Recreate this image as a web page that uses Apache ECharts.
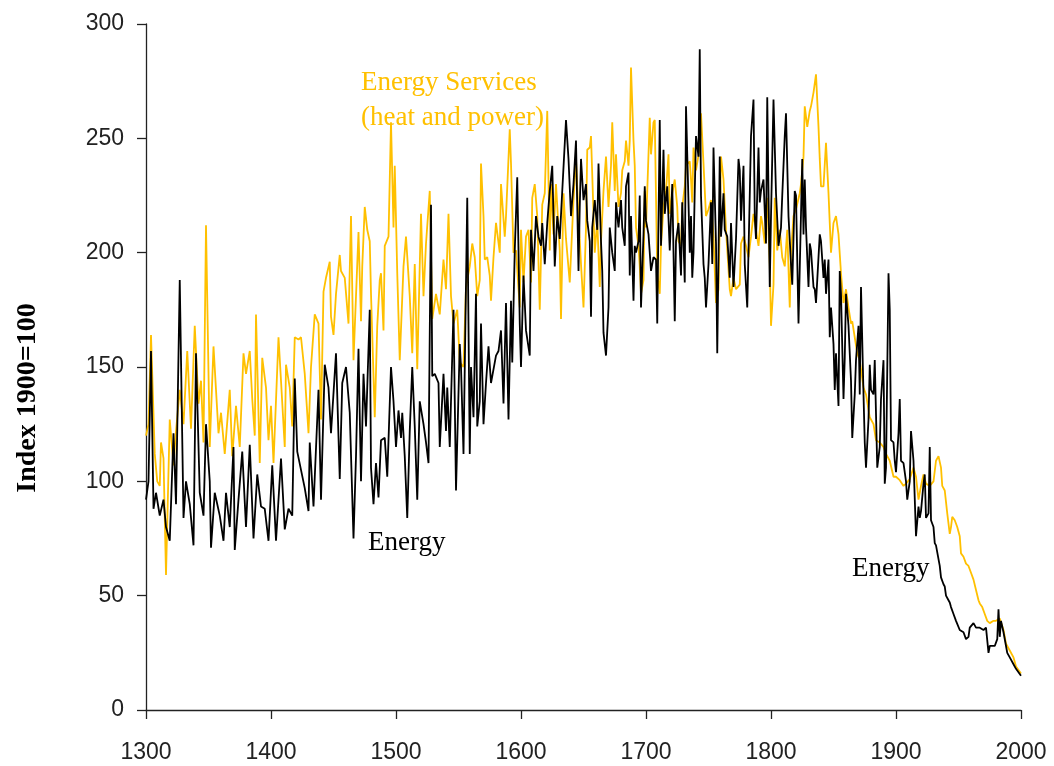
<!DOCTYPE html>
<html>
<head>
<meta charset="utf-8">
<script src="https://cdn.jsdelivr.net/npm/echarts@6/dist/echarts.min.js"></script>
<style>
html,body{margin:0;padding:0;background:#fff;}
#chart{width:1054px;height:766px;}
</style>
</head>
<body>
<div id="chart"></div>
<script>
// Index 1900=100 — Energy (black) [year, index]
const energy = [
[1300,92],[1302,100],[1304,157],[1306,88],[1308,95],[1311,85],[1314,92],[1316,80],[1319,74],[1322,121],
[1324,90],[1327,188],[1330,84],[1332,100],[1335,90],[1338,72],[1340,156],[1343,95],[1346,85],[1348,125],
[1351,100],[1352,71],[1355,95],[1359,85],[1362,74],[1364,95],[1367,80],[1370,115],[1371,70],[1374,92],
[1377,113],[1380,80],[1383,116],[1386,75],[1389,103],[1392,89],[1395,88],[1398,74],[1401,107],[1404,74],
[1408,110],[1411,79],[1414,88],[1417,85],[1419,145],[1421,113],[1424,105],[1427,97],[1430,87],[1431,117],
[1434,89],[1438,140],[1440,92],[1443,151],[1446,141],[1448,121],[1452,156],[1455,101],[1457,143],[1460,150],
[1463,130],[1466,75],[1468,111],[1470,158],[1472,100],[1474,147],[1476,124],[1479,175],[1480,106],[1482,90],
[1484,108],[1486,93],[1488,118],[1491,119],[1493,102],[1496,150],[1498,135],[1500,115],[1502,131],[1504,119],
[1505,130],[1507,111],[1509,84],[1511,122],[1513,150],[1515,124],[1517,92],[1519,135],[1522,125],[1524,117],
[1526,108],[1528,221],[1529,146],[1531,147],[1534,143],[1535,115],[1538,147],[1540,122],[1541,141],[1543,115],
[1546,175],[1548,96],[1551,160],[1552,150],[1554,112],[1557,224],[1559,112],[1560,150],[1562,128],[1564,182],
[1565,124],[1567,135],[1568,169],[1570,125],[1572,143],[1574,159],[1576,143],[1578,149],[1580,155],[1582,157],
[1584,166],[1586,134],[1588,178],[1590,127],[1592,179],[1593,152],[1595,201],[1597,233],[1599,169],[1600,150],
[1602,190],[1604,166],[1607,155],[1608,210],[1610,192],[1612,216],[1614,207],[1616,203],[1617,213],[1619,195],
[1621,213],[1623,227],[1625,238],[1627,194],[1629,216],[1631,206],[1633,227],[1636,258],[1638,241],[1640,216],
[1642,230],[1644,249],[1646,192],[1647,220],[1648,241],[1650,223],[1652,230],[1653,214],[1655,205],[1656,172],
[1657,211],[1659,223],[1661,210],[1662,239],[1664,205],[1665,192],[1666,165],[1668,155],[1670,176],[1671,211],
[1673,200],[1675,192],[1676,222],[1678,211],[1680,223],[1681,211],[1683,203],[1684,229],[1686,235],[1687,190],
[1688,216],[1690,179],[1691,203],[1692,200],[1694,205],[1695,225],[1696,176],[1698,208],[1699,229],[1700,214],
[1702,208],[1704,192],[1706,198],[1708,197],[1709,169],[1711,258],[1712,203],[1714,245],[1715,217],[1717,229],
[1719,201],[1721,230],[1723,170],[1724,205],[1726,213],[1728,190],[1729,222],[1731,187],[1732,264],[1734,222],
[1735,200],[1736,216],[1737,189],[1738,200],[1739,227],[1740,251],[1742,242],[1743,289],[1744,225],[1746,195],
[1747,189],[1748,176],[1750,195],[1752,222],[1753,195],[1754,246],[1756,204],[1757,156],[1759,242],[1760,207],
[1762,226],[1763,210],[1765,207],[1767,189],[1768,213],[1770,185],[1772,206],[1774,241],[1775,236],[1776,214],
[1778,238],[1779,195],[1781,176],[1783,225],[1784,251],[1786,267],[1787,216],[1788,206],[1790,246],[1791,222],
[1792,227],[1794,232],[1796,204],[1797,268],[1799,185],[1800,216],[1802,267],[1804,226],[1806,203],[1808,211],
[1809,225],[1811,251],[1812,261],[1814,216],[1816,195],[1817,186],[1819,227],[1820,225],[1822,169],[1823,169],
[1825,241],[1826,208],[1827,232],[1828,211],[1830,185],[1831,204],[1832,201],[1834,185],[1835,184],[1836,178],
[1839,208],[1840,205],[1842,189],[1843,197],[1844,182],[1846,197],[1847,163],[1848,176],[1850,160],[1851,140],
[1852,156],[1854,133],[1855,192],[1856,182],[1858,136],[1859,154],[1860,182],[1862,168],[1864,144],[1865,119],
[1867,138],[1868,153],[1870,168],[1871,138],[1872,185],[1874,138],[1875,117],[1876,106],[1878,127],[1879,151],
[1880,140],[1882,138],[1883,153],[1885,106],[1887,115],[1888,136],[1890,153],[1891,99],[1892,106],[1894,191],
[1895,175],[1896,118],[1898,117],[1899,109],[1900,104],[1902,121],[1903,136],[1904,109],[1906,108],[1908,100],
[1909,92],[1911,100],[1912,122],[1914,109],[1916,76],[1918,89],[1919,84],[1920,87],[1922,99],[1923,103],
[1924,84],[1926,86],[1927,115],[1928,83],[1930,80],[1931,73],[1932,72],[1934,66],[1935,63],[1936,58],
[1938,55],[1939,54],[1940,50],[1942,48],[1943,47],[1944,45],[1946,42],[1948,39],[1951,35],[1954,34],
[1956,31],[1958,32],[1959,36],[1962,38],[1964,36],[1967,36],[1970,35],[1972,36],[1973,36],[1974,25],
[1975,28],[1977,28],[1979,28],[1981,31],[1982,44],[1983,32],[1984,39],[1986,34],[1988,28],[1989,25],
[1991,23],[1994,20],[1996,18],[2000,15]
];

// Energy Services (heat and power) — orange [year, index]
const energyServices = [
[1300,120],[1302,125],[1304,164],[1307,112],[1309,100],[1311,98],[1312,117],[1314,110],[1316,59],[1319,127],
[1322,107],[1324,122],[1327,140],[1330,125],[1333,157],[1336,123],[1339,168],[1342,134],[1344,144],[1346,117],
[1348,212],[1351,115],[1354,159],[1358,121],[1360,130],[1363,112],[1367,140],[1369,111],[1372,133],[1375,115],
[1378,156],[1380,147],[1383,157],[1385,136],[1387,120],[1388,173],[1391,108],[1393,154],[1396,141],[1398,118],
[1400,133],[1402,108],[1406,163],[1408,144],[1411,115],[1412,151],[1415,141],[1417,124],[1419,163],[1422,162],
[1424,163],[1427,147],[1430,121],[1432,150],[1435,173],[1438,169],[1440,127],[1442,183],[1444,189],[1447,196],
[1448,172],[1450,164],[1452,182],[1455,199],[1456,192],[1459,189],[1462,169],[1464,216],[1466,153],[1470,209],
[1472,170],[1473,194],[1475,220],[1477,210],[1479,205],[1480,182],[1483,128],[1485,168],[1487,188],[1488,191],
[1490,166],[1491,203],[1494,207],[1496,257],[1498,211],[1499,238],[1501,191],[1503,153],[1506,194],[1508,207],
[1511,181],[1513,156],[1515,195],[1517,149],[1520,217],[1522,181],[1524,204],[1527,227],[1529,171],[1532,182],
[1535,173],[1538,197],[1540,184],[1542,217],[1544,181],[1546,169],[1549,175],[1551,152],[1554,150],[1556,185],
[1559,194],[1561,204],[1563,198],[1565,181],[1567,188],[1568,239],[1570,216],[1571,197],[1573,198],[1575,190],
[1576,179],[1578,198],[1580,213],[1583,200],[1584,230],[1587,207],[1588,216],[1591,254],[1592,239],[1594,200],
[1596,201],[1599,176],[1600,210],[1602,187],[1604,207],[1606,210],[1608,187],[1609,224],[1611,230],[1613,216],
[1615,175],[1617,221],[1619,226],[1621,262],[1623,201],[1624,230],[1626,208],[1628,230],[1631,201],[1632,171],
[1634,226],[1636,206],[1639,187],[1642,223],[1644,241],[1646,216],[1648,195],[1650,176],[1652,211],[1653,245],
[1655,246],[1656,251],[1658,217],[1659,200],[1661,214],[1663,185],[1664,205],[1666,227],[1668,242],[1670,220],
[1672,238],[1673,257],[1675,227],[1676,243],[1678,220],[1680,226],[1681,236],[1683,240],[1684,249],[1686,238],
[1687,249],[1688,281],[1690,249],[1691,238],[1692,211],[1694,203],[1695,194],[1696,182],[1698,188],[1699,227],
[1700,211],[1702,243],[1703,259],[1704,243],[1706,257],[1707,258],[1709,191],[1711,182],[1712,203],[1714,220],
[1716,227],[1718,243],[1719,217],[1721,226],[1723,232],[1725,220],[1726,205],[1728,203],[1729,220],[1731,229],
[1732,238],[1735,240],[1736,232],[1737,222],[1738,246],[1740,236],[1743,246],[1744,261],[1746,239],[1748,216],
[1750,219],[1752,223],[1754,207],[1756,178],[1758,184],[1760,242],[1762,232],[1764,210],[1767,184],[1768,181],
[1770,189],[1772,184],[1775,186],[1776,204],[1778,207],[1780,203],[1782,198],[1784,207],[1786,217],[1788,210],
[1790,203],[1792,216],[1793,213],[1795,204],[1797,224],[1799,195],[1800,168],[1802,186],[1803,224],[1805,201],
[1807,210],[1809,198],[1811,194],[1813,210],[1815,176],[1816,200],[1818,216],[1820,219],[1823,226],[1824,230],
[1826,242],[1827,264],[1829,255],[1831,262],[1832,264],[1834,270],[1836,278],[1838,255],[1839,241],[1840,229],
[1842,229],[1844,248],[1846,226],[1848,200],[1850,213],[1852,216],[1854,208],[1856,191],[1858,178],[1860,184],
[1862,176],[1864,169],[1865,170],[1867,163],[1869,156],[1871,153],[1874,141],[1876,138],[1879,128],[1882,125],
[1884,118],[1887,117],[1890,115],[1892,112],[1895,109],[1898,102],[1900,102],[1903,100.5],[1906,98],[1908,99],
[1911,101],[1914,106],[1916,102],[1918,92],[1919,95],[1920,98],[1922,103],[1924,99],[1927,98],[1930,100],
[1932,109],[1934,111],[1936,106],[1937,98],[1939,96],[1941,86],[1943,77],[1944,80],[1945,84.5],[1947,83],
[1949,80],[1951,76],[1952,68.5],[1954,67],[1956,64],[1958,63],[1960,60],[1962,57],[1964,52.5],[1966,48],
[1967,46.6],[1969,45],[1971,42],[1973,39],[1975,38],[1978,39],[1980,39],[1983,40],[1986,35],[1988,29],
[1991,26],[1994,23],[1996,19],[2000,16]
];

const yearTicks = [1300, 1400, 1500, 1600, 1700, 1800, 1900, 2000];
const indexTicks = [0, 50, 100, 150, 200, 250, 300];
const yAxisTitle = 'Index 1900=100';
const labelServices = ['Energy Services', '(heat and power)'];
const labelEnergy = 'Energy';

const chart = echarts.init(document.getElementById('chart'), null, {renderer: 'canvas'});
const axisFont = 'Liberation Sans';
const serif = '"Liberation Serif", "Times New Roman", serif';

chart.setOption({
  backgroundColor: '#ffffff',
  animation: false,
  grid: {left: 146, right: 33, top: 24, bottom: 56, containLabel: false},
  xAxis: {
    type: 'value',
    min: yearTicks[0], max: yearTicks[yearTicks.length - 1], interval: 100,
    splitLine: {show: false},
    axisLine: {show: true, onZero: false, lineStyle: {color: '#222', width: 1.3}},
    axisTick: {show: true, inside: false, length: 9, lineStyle: {color: '#222', width: 1.3}},
    axisLabel: {margin: 31, fontFamily: axisFont, fontSize: 23, color: '#222',
      formatter: v => String(v)}
  },
  yAxis: {
    type: 'value',
    min: indexTicks[0], max: indexTicks[indexTicks.length - 1], interval: 50,
    splitLine: {show: false},
    axisLine: {show: true, lineStyle: {color: '#222', width: 1.3}},
    axisTick: {show: true, inside: false, length: 9, lineStyle: {color: '#222', width: 1.3}},
    axisLabel: {margin: 22, fontFamily: axisFont, fontSize: 23, color: '#222'}
  },
  series: [
    {name: 'Energy Services (heat and power)', type: 'line', data: energyServices,
     showSymbol: false, symbol: 'none', lineStyle: {color: '#FFC000', width: 1.8}, z: 2},
    {name: 'Energy', type: 'line', data: energy,
     showSymbol: false, symbol: 'none', lineStyle: {color: '#000000', width: 1.8}, z: 3}
  ],
  graphic: [
    {type: 'text', x: 28, y: 398, rotation: Math.PI / 2, z: 10,
     style: {text: yAxisTitle, fill: '#000', font: 'bold 28px ' + serif,
             textAlign: 'center', textVerticalAlign: 'middle'}},
    {type: 'text', left: 361, top: 69, z: 10,
     style: {text: labelServices[0], fill: '#FFC000', font: '27px ' + serif}},
    {type: 'text', left: 361, top: 104, z: 10,
     style: {text: labelServices[1], fill: '#FFC000', font: '27px ' + serif}},
    {type: 'text', left: 368, top: 529, z: 10,
     style: {text: labelEnergy, fill: '#000', font: '27px ' + serif}},
    {type: 'text', left: 852, top: 555, z: 10,
     style: {text: labelEnergy, fill: '#000', font: '27px ' + serif}}
  ]
});
</script>
</body>
</html>
